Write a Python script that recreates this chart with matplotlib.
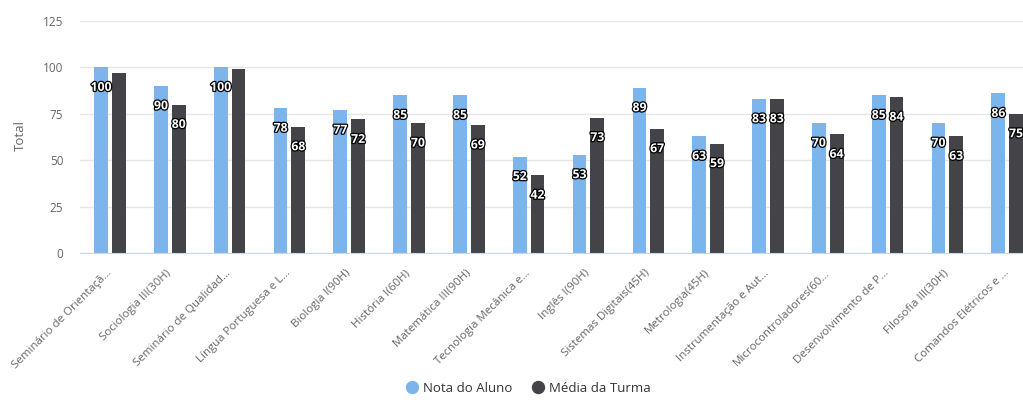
import matplotlib
matplotlib.use("Agg")
from matplotlib import pyplot as plt
from matplotlib import patheffects
from matplotlib.lines import Line2D
import numpy as np

plt.rcParams['font.family'] = ['Open Sans', 'DejaVu Sans']

disciplinas = ["Seminário de Orientaçã…", "Sociologia III(30H)", "Seminário de Qualidad…",
               "Língua Portuguesa e L…", "Biologia I(90H)", "História I(60H)",
               "Matemática III(90H)", "Tecnologia Mecânica e…", "Inglês I(90H)",
               "Sistemas Digitais(45H)", "Metrologia(45H)", "Instrumentação e Aut…",
               "Microcontroladores(60…", "Desenvolvimento de P…", "Filosofia III(30H)",
               "Comandos Elétricos e …"]
nota_aluno = [100, 90, 100, 78, 77, 85, 85, 52, 53, 89, 63, 83, 70, 85, 70, 86]
media_turma = [97, 80, 99, 68, 72, 70, 69, 42, 73, 67, 59, 83, 64, 84, 63, 75]
# labels of the class average that get hidden behind the wider "100" labels
media_sem_rotulo = [0, 2]
y_ticks = [0, 25, 50, 75, 100, 125]

AZUL = "#7cb5ec"
ESCURO = "#434348"

fig = plt.figure(figsize=(10.23, 4.0), dpi=100)
# plot area runs a bit past the right edge of the image
ax = fig.add_axes([80/1023, 146.7/400, 957/1023, 232.3/400])

x = np.arange(len(disciplinas))
w = 0.23
ax.bar(x - 0.147, nota_aluno, w, color=AZUL, zorder=3)
ax.bar(x + 0.15, media_turma, w, color=ESCURO, zorder=3)

contorno = [patheffects.withStroke(linewidth=1.8, foreground="black")]
for i, v in enumerate(nota_aluno):
    ax.annotate(str(v), (x[i] - 0.147, v), xytext=(0, -14.3), textcoords="offset points",
                ha="center", va="center", color="white", fontsize=8.8, fontweight="bold",
                path_effects=contorno, zorder=5)
for i, v in enumerate(media_turma):
    if i in media_sem_rotulo:
        continue
    ax.annotate(str(v), (x[i] + 0.15, v), xytext=(0, -14.3), textcoords="offset points",
                ha="center", va="center", color="white", fontsize=8.8, fontweight="bold",
                path_effects=contorno, zorder=5)

ax.set_xlim(-0.5, len(disciplinas) - 0.5)
ax.set_ylim(0, 125)
ax.set_yticks(y_ticks)
ax.set_xticks(x)
ax.set_xticklabels(disciplinas, rotation=45, ha="right", va="center",
                   rotation_mode="anchor", fontsize=8.25, color="#666666")
ax.tick_params(axis="x", length=0, pad=13)
ax.tick_params(axis="y", length=0, pad=12, labelsize=8.5, labelcolor="#666666")
ax.grid(axis="y", color="#e6e6e6", linewidth=1, zorder=0)
ax.set_axisbelow(True)
for s in ["top", "right", "left"]:
    ax.spines[s].set_visible(False)
ax.spines["bottom"].set_color("#ccd6eb")
ax.spines["bottom"].set_zorder(4)

ax.set_ylabel("Total", fontsize=9.5, color="#666666")
ax.yaxis.set_label_coords(-0.0554, 0.505)

handles = [Line2D([], [], marker="o", linestyle="", markersize=8.6, color=AZUL),
           Line2D([], [], marker="o", linestyle="", markersize=8.6, color=ESCURO)]
fig.legend(handles, ["Nota do Aluno", "Média da Turma"], loc="center",
           bbox_to_anchor=(528/1023, 12/400), ncol=2, frameon=False,
           fontsize=9.5, labelcolor="#333333", handlelength=1.0, handletextpad=0.3,
           columnspacing=1.5)

fig.savefig("out.png", dpi=100)
